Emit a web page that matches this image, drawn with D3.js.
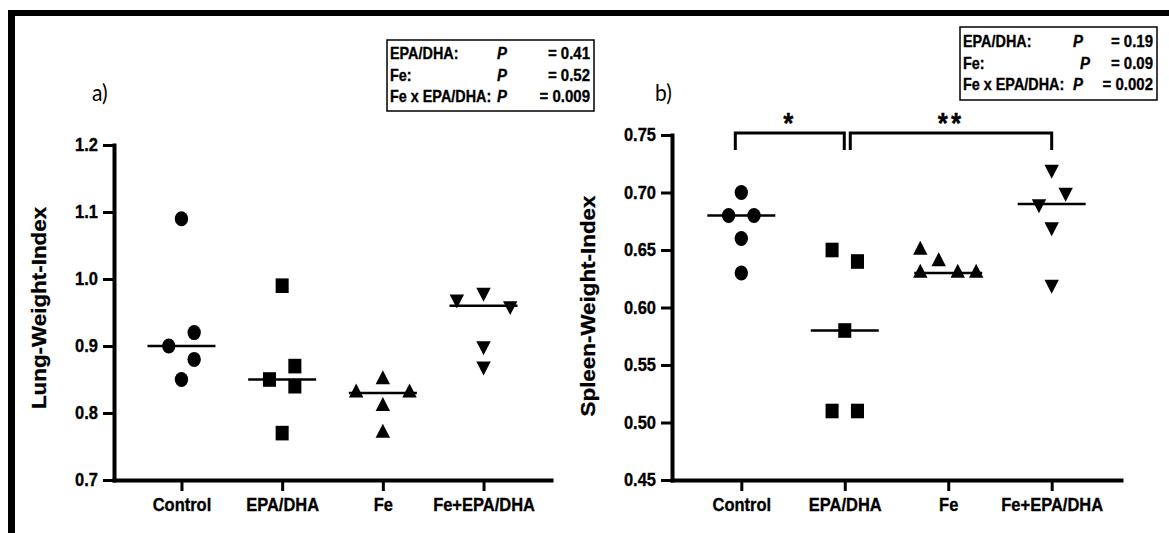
<!DOCTYPE html>
<html>
<head>
<meta charset="utf-8">
<script src="https://cdn.jsdelivr.net/npm/d3@7"></script>
<style>
  body { margin: 0; background: #fff; }
  svg text { font-family: "Liberation Sans", Arial, sans-serif; font-weight: bold; fill: #000; stroke: #000; stroke-width: 0.3px; }
</style>
</head>
<body>
<svg id="chart" width="1169" height="533"></svg>
<script>
// groups and values
var groups = ["Control", "EPA/DHA", "Fe", "Fe+EPA/DHA"];

var lungTicks = [0.7, 0.8, 0.9, 1.0, 1.1, 1.2];
var lungValues = [
  [1.09, 0.92, 0.90, 0.88, 0.85],
  [0.99, 0.87, 0.85, 0.84, 0.77],
  [0.85, 0.83, 0.83, 0.81, 0.77],
  [0.98, 0.97, 0.96, 0.90, 0.87]
];
// horizontal spread of the points (in marker widths)
var lungSpread = [
  [0, 1, -1, 1, 0],
  [0, 1, -1, 1, 0],
  [0, -2.1, 2.1, 0, 0],
  [0, -2.1, 2.1, 0, 0]
];
var lungStats = [["EPA/DHA:", "= 0.41"], ["Fe:", "= 0.52"], ["Fe x EPA/DHA:", "= 0.009"]];

var spleenTicks = [0.45, 0.50, 0.55, 0.60, 0.65, 0.70, 0.75];
var spleenValues = [
  [0.70, 0.68, 0.68, 0.66, 0.63],
  [0.65, 0.64, 0.58, 0.51, 0.51],
  [0.65, 0.64, 0.63, 0.63, 0.63],
  [0.72, 0.70, 0.69, 0.67, 0.62]
];
var spleenSpread = [
  [0, -1, 1, 0, 0],
  [-1, 1, 0, -1, 1],
  [-2.2, -0.75, -2.2, 0.75, 2.2],
  [0, 1.1, -1, 0, 0]
];
var spleenStats = [["EPA/DHA:", "= 0.19"], ["Fe:", "= 0.09"], ["Fe x EPA/DHA:", "= 0.002"]];
var spleenSig = [
  { from: 0, to: 1, label: "*" },
  { from: 1, to: 3, label: "**" }
];

var SY = 1.12; // the original figure is a bit stretched vertically
var svg = d3.select("#chart");

// frame lines on top and left
svg.append("rect").attr("x", 8).attr("y", 10).attr("width", 1161).attr("height", 6);
svg.append("rect").attr("x", 8).attr("y", 10).attr("width", 7).attr("height", 523);

var symbols = [
  { type: d3.symbolCircle, size: 140, rot: 0 },
  { type: d3.symbolSquare, size: 170, rot: 0 },
  { type: d3.symbolTriangle, size: 90, rot: 0 },
  { type: d3.symbolTriangle, size: 90, rot: 180 }
];

function panel(cfg) {
  var g = svg.append("g");

  var x = d3.scalePoint().domain(groups).range([cfg.left, cfg.right]).padding(0.67);
  var y = d3.scaleLinear().domain(d3.extent(cfg.ticks)).range([cfg.bottom, cfg.top]);
  var spread = d3.scaleLinear().domain([-1, 1]).range([-12.7, 12.7]);

  var yAxis = g.append("g")
    .attr("transform", "translate(" + cfg.left + ",0)")
    .call(d3.axisLeft(y).tickValues(cfg.ticks).tickFormat(d3.format(cfg.fmt))
      .tickSize(11).tickSizeOuter(0).tickPadding(5));
  var xAxis = g.append("g")
    .attr("transform", "translate(0," + cfg.bottom + ")")
    .call(d3.axisBottom(x).tickSize(11).tickSizeOuter(0).tickPadding(5));

  [yAxis, xAxis].forEach(function (a) {
    a.select(".domain").attr("stroke", "#000").attr("stroke-width", 4).attr("stroke-linecap", "square");
    a.selectAll(".tick line").attr("stroke", "#000").attr("stroke-width", 3);
    a.selectAll("text")
      .attr("fill", "#000")
      .style("font-size", "16.5px")
      .attr("transform", "scale(1," + SY + ")");
  });

  // axis title
  g.append("text")
    .attr("transform", "translate(" + cfg.titleX + "," + cfg.titleY + ") scale(1," + SY + ") rotate(-90)")
    .attr("text-anchor", "middle")
    .style("font-size", "20px")
    .text(cfg.title);

  // panel letter
  g.append("text")
    .attr("transform", "translate(" + cfg.letterX + "," + cfg.letterY + ") scale(1," + SY + ")")
    .style("font-family", "Lato, 'Open Sans', sans-serif")
    .style("font-weight", "normal")
    .style("stroke-width", "0px")
    .style("font-size", "21px")
    .text(cfg.letter);

  // points and medians
  cfg.values.forEach(function (vals, i) {
    var cx = x(groups[i]);
    var s = symbols[i];
    g.selectAll(".pt" + i)
      .data(vals)
      .enter()
      .append("path")
      .attr("d", d3.symbol().type(s.type).size(s.size))
      .attr("fill", "#000")
      .attr("transform", function (d, j) {
        return "translate(" + (cx + spread(cfg.spread[i][j])) + "," + y(d) + ") scale(1," + SY + ") rotate(" + s.rot + ")";
      });
    var med = d3.median(vals);
    g.append("line")
      .attr("x1", cx - 34).attr("x2", cx + 34)
      .attr("y1", y(med)).attr("y2", y(med))
      .attr("stroke", "#000").attr("stroke-width", 2.5);
  });

  // stats box
  var b = cfg.box;
  g.append("rect")
    .attr("x", b.x).attr("y", b.y).attr("width", b.w).attr("height", b.h)
    .attr("fill", "none").attr("stroke", "#000").attr("stroke-width", 1.5);
  cfg.stats.forEach(function (row, i) {
    var by = b.y + b.first + i * b.step;
    g.append("text")
      .attr("transform", "translate(" + (b.x + 3) + "," + by + ") scale(0.96," + SY + ")")
      .style("font-size", "15px").text(row[0]);
    g.append("text")
      .attr("transform", "translate(" + (b.x + b.pCol[i]) + "," + by + ") scale(1," + SY + ")")
      .style("font-size", "15px").style("font-style", "italic").text("P");
    g.append("text")
      .attr("transform", "translate(" + (b.x + b.w - 4) + "," + by + ") scale(1," + SY + ")")
      .attr("text-anchor", "end")
      .style("font-size", "15px").text(row[1]);
  });

  // significance brackets
  (cfg.sig || []).forEach(function (s, i) {
    var x1 = x(groups[s.from]) + (i === 0 ? -6 : 5.5);
    var x2 = x(groups[s.to]) + (i === 0 ? -0.5 : 0);
    var top = y(cfg.ticks[cfg.ticks.length - 1]) - 2;
    g.append("path")
      .attr("d", "M" + x1 + "," + (top + 17) + "V" + top + "H" + x2 + "V" + (top + 17))
      .attr("fill", "none").attr("stroke", "#000").attr("stroke-width", 3);
    g.append("text")
      .attr("transform", "translate(" + (x1 + x2) / 2 + "," + top + ") scale(1," + SY + ")")
      .attr("text-anchor", "middle")
      .style("font-size", "26px")
      .style("letter-spacing", "3px")
      .text(s.label);
  });
}

panel({
  left: 114, right: 551, top: 145, bottom: 480,
  ticks: lungTicks, fmt: ".1f", values: lungValues, spread: lungSpread,
  title: "Lung-Weight-Index", titleX: 46, titleY: 308,
  letter: "a)", letterX: 92, letterY: 101,
  stats: lungStats,
  box: { x: 387, y: 40, w: 207, h: 71, first: 19, step: 21.5, pCol: [110, 110, 110] }
});

panel({
  left: 672, right: 1121, top: 135, bottom: 480,
  ticks: spleenTicks, fmt: ".2f", values: spleenValues, spread: spleenSpread,
  title: "Spleen-Weight-Index", titleX: 595, titleY: 306,
  letter: "b)", letterX: 655, letterY: 101,
  stats: spleenStats, sig: spleenSig,
  box: { x: 960, y: 27, w: 197, h: 73, first: 20, step: 21.5, pCol: [113, 120, 113] }
});
</script>
</body>
</html>
